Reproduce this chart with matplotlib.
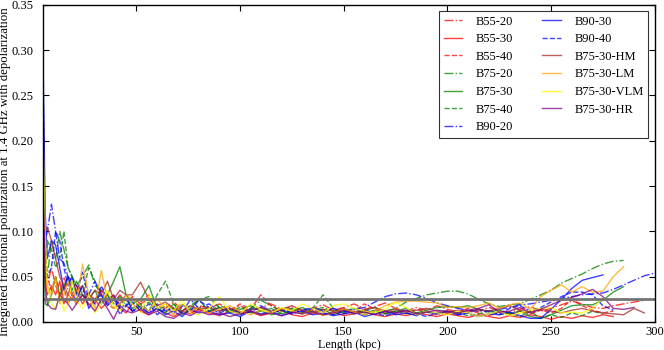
import matplotlib
matplotlib.use("Agg")
import matplotlib.pyplot as plt

plt.rcParams['font.family'] = ['Liberation Serif', 'DejaVu Serif']

# Length grid (kpc)
length_kpc = [5, 6, 7, 9, 11, 13, 15, 17, 19, 21,
              24, 27, 30, 33, 36, 39, 42, 45, 48,
              52, 56, 60, 64, 68, 72, 76, 80,
              85, 90, 95, 100, 105, 110, 115, 120, 125, 130, 135, 140, 145, 150,
              155, 160, 165, 170, 175, 180, 185, 190, 195, 200, 205, 210, 215, 220,
              225, 230, 235, 240, 245, 250, 255, 260, 265, 270, 275, 280, 285, 290,
              295, 300]

b55_20 = [0.08, 0.05, 0.04, 0.06, 0.04, 0.03, 0.05, 0.035, 0.03, 0.04,
          0.025, 0.03, 0.02, 0.035, 0.028, 0.02, 0.03, 0.022, 0.028,
          0.02, 0.025, 0.018, 0.015, 0.022, 0.014, 0.012, 0.018,
          0.015, 0.02, 0.014, 0.018, 0.012, 0.016, 0.02, 0.014, 0.017, 0.012, 0.015, 0.019, 0.013, 0.016,
          0.02, 0.014, 0.017, 0.021, 0.015, 0.012, 0.016, 0.013, 0.018, 0.014, 0.011, 0.015, 0.012, 0.016,
          0.013, 0.01, 0.014, 0.017, 0.012, 0.015, 0.019, 0.023, 0.02, 0.016, 0.015, 0.018, 0.02, 0.022,
          0.024]
b55_30 = [0.25, 0.05, 0.03, 0.04, 0.03, 0.045, 0.02, 0.03, 0.025, 0.035,
          0.02, 0.03, 0.025, 0.015, 0.022, 0.03, 0.015, 0.01, 0.02,
          0.012, 0.008, 0.015, 0.01, 0.006, 0.012, 0.009, 0.014,
          0.01, 0.007, 0.012, 0.009, 0.011, 0.007, 0.01, 0.013, 0.008, 0.006, 0.01, 0.008, 0.011, 0.007,
          0.009, 0.012, 0.008, 0.006, 0.009, 0.007, 0.01, 0.008, 0.006, 0.009, 0.007, 0.005, 0.008, 0.006,
          0.004, 0.007, 0.005, 0.008, 0.006, 0.003, 0.006, 0.004, 0.007, 0.005, 0.008, 0.006]
b55_40 = [0.24, 0.08, 0.05, 0.035, 0.05, 0.025, 0.04, 0.02, 0.03, 0.02,
          0.03, 0.018, 0.025, 0.035, 0.02, 0.015, 0.025, 0.018, 0.012,
          0.022, 0.03, 0.015, 0.02, 0.012, 0.016, 0.01, 0.014,
          0.01, 0.016, 0.012, 0.02, 0.014, 0.03, 0.018, 0.012, 0.015, 0.01, 0.013, 0.011, 0.015, 0.009,
          0.012, 0.02, 0.014, 0.01, 0.012, 0.009, 0.014, 0.011, 0.008, 0.012, 0.009, 0.013, 0.01, 0.007,
          0.011, 0.008, 0.012, 0.009, 0.013, 0.01, 0.015, 0.025, 0.018, 0.013, 0.01, 0.012]
b75_20 = [0.17, 0.06, 0.05, 0.09, 0.07, 0.1, 0.08, 0.06, 0.05, 0.04,
          0.05, 0.063, 0.04, 0.035, 0.03, 0.022, 0.028, 0.018, 0.025,
          0.015, 0.022, 0.012, 0.018, 0.014, 0.02, 0.012, 0.016,
          0.012, 0.018, 0.014, 0.01, 0.015, 0.024, 0.018, 0.012, 0.015, 0.01, 0.013, 0.016, 0.012, 0.014,
          0.01, 0.013, 0.016, 0.012, 0.015, 0.022, 0.026, 0.03, 0.032, 0.034, 0.034, 0.031, 0.025, 0.02,
          0.017, 0.019, 0.02, 0.025, 0.03, 0.035, 0.043, 0.048, 0.053, 0.059, 0.064, 0.067, 0.068]
b75_30 = [0.13, 0.02, 0.018, 0.03, 0.05, 0.03, 0.04, 0.05, 0.035, 0.045,
          0.03, 0.025, 0.035, 0.02, 0.03, 0.045, 0.061, 0.03, 0.02,
          0.025, 0.04, 0.015, 0.01, 0.02, 0.008, 0.015, 0.025,
          0.012, 0.016, 0.01, 0.014, 0.018, 0.012, 0.015, 0.009, 0.012, 0.016, 0.011, 0.014, 0.008, 0.012,
          0.015, 0.01, 0.013, 0.009, 0.012, 0.015, 0.01, 0.013, 0.016, 0.017, 0.016, 0.018, 0.014, 0.011,
          0.013, 0.009, 0.012, 0.006, 0.004, 0.008, 0.013, 0.018, 0.019, 0.019, 0.024, 0.033, 0.039]
b75_40 = [0.27, 0.05, 0.09, 0.08, 0.06, 0.07, 0.1, 0.06, 0.05, 0.03,
          0.03, 0.06, 0.045, 0.025, 0.03, 0.02, 0.018, 0.025, 0.015,
          0.02, 0.012, 0.03, 0.045, 0.02, 0.012, 0.018, 0.025,
          0.028, 0.015, 0.012, 0.016, 0.01, 0.012, 0.008, 0.01, 0.013, 0.009, 0.015, 0.03, 0.015, 0.01,
          0.012, 0.008, 0.011, 0.009, 0.012, 0.01, 0.008, 0.011, 0.009, 0.012, 0.01, 0.007, 0.009, 0.012,
          0.008, 0.01, 0.006, 0.012, 0.004, 0.008, 0.005, 0.01, 0.007, 0.012, 0.009]
b90_20 = [0.15, 0.09, 0.1, 0.13, 0.1, 0.07, 0.065, 0.05, 0.045, 0.04,
          0.035, 0.03, 0.045, 0.03, 0.02, 0.025, 0.015, 0.02, 0.012,
          0.015, 0.01, 0.02, 0.012, 0.016, 0.01, 0.025, 0.015,
          0.02, 0.012, 0.016, 0.01, 0.014, 0.018, 0.012, 0.015, 0.01, 0.013, 0.016, 0.012, 0.015, 0.011,
          0.014, 0.016, 0.022, 0.028, 0.031, 0.032, 0.03, 0.026, 0.021, 0.018, 0.015, 0.013, 0.012, 0.012,
          0.014, 0.016, 0.019, 0.02, 0.022, 0.024, 0.026, 0.028, 0.03, 0.031, 0.032, 0.036, 0.041, 0.046,
          0.051, 0.054]
b90_30 = [0.28, 0.12, 0.07, 0.09, 0.085, 0.06, 0.035, 0.05, 0.03, 0.025,
          0.04, 0.015, 0.025, 0.03, 0.018, 0.025, 0.02, 0.03, 0.012,
          0.018, 0.01, 0.015, 0.008, 0.012, 0.006, 0.014, 0.01,
          0.012, 0.008, 0.01, 0.006, 0.012, 0.009, 0.011, 0.007, 0.01, 0.012, 0.008, 0.01, 0.007, 0.009,
          0.011, 0.006, 0.009, 0.012, 0.008, 0.01, 0.007, 0.012, 0.009, 0.011, 0.008, 0.01, 0.006, 0.009,
          0.008, 0.011, 0.007, 0.004, 0.004, 0.014, 0.025, 0.037, 0.046, 0.049, 0.052]
b90_40 = [0.2, 0.08, 0.05, 0.06, 0.1, 0.09, 0.06, 0.04, 0.05, 0.03,
          0.055, 0.025, 0.02, 0.04, 0.025, 0.03, 0.008, 0.018, 0.022,
          0.012, 0.02, 0.008, 0.015, 0.01, 0.018, 0.012, 0.024,
          0.016, 0.01, 0.014, 0.008, 0.012, 0.016, 0.01, 0.013, 0.009, 0.012, 0.015, 0.01, 0.008, 0.012,
          0.01, 0.014, 0.009, 0.007, 0.01, 0.013, 0.009, 0.006, 0.01, 0.012, 0.008, 0.01, 0.014, 0.012,
          0.009, 0.015, 0.018, 0.012, 0.016, 0.022, 0.028, 0.033, 0.033, 0.03, 0.018, 0.013]
b75_30_hm = [0.12, 0.1, 0.105, 0.09, 0.07, 0.05, 0.04, 0.03, 0.045, 0.035,
             0.04, 0.025, 0.035, 0.03, 0.045, 0.025, 0.035, 0.03, 0.03,
             0.044, 0.025, 0.018, 0.022, 0.015, 0.012, 0.018, 0.014,
             0.016, 0.012, 0.015, 0.011, 0.013, 0.016, 0.012, 0.014, 0.018, 0.013, 0.01, 0.014, 0.012, 0.015,
             0.011, 0.013, 0.016, 0.012, 0.014, 0.011, 0.013, 0.015, 0.012, 0.01, 0.013, 0.011, 0.014, 0.012,
             0.015, 0.018, 0.013, 0.011, 0.014, 0.012, 0.01, 0.013, 0.015, 0.012, 0.01, 0.009, 0.008, 0.015,
             0.01]
b75_30_lm = [0.1, 0.06, 0.04, 0.03, 0.05, 0.02, 0.03, 0.045, 0.03, 0.02,
             0.064, 0.03, 0.015, 0.057, 0.025, 0.015, 0.02, 0.03, 0.025,
             0.018, 0.012, 0.025, 0.015, 0.008, 0.02, 0.012, 0.016,
             0.01, 0.014, 0.018, 0.012, 0.008, 0.013, 0.01, 0.015, 0.012, 0.009, 0.013, 0.007, 0.01, 0.014,
             0.011, 0.008, 0.012, 0.018, 0.022, 0.023, 0.023, 0.022, 0.021, 0.016, 0.017, 0.016, 0.018, 0.021,
             0.015, 0.019, 0.021, 0.014, 0.028, 0.035, 0.041, 0.033, 0.039, 0.033, 0.034, 0.05, 0.061]
b75_30_vlm = [0.2, 0.1, 0.04, 0.02, 0.015, 0.03, 0.012, 0.02, 0.045, 0.025,
              0.015, 0.03, 0.01, 0.02, 0.035, 0.018, 0.012, 0.028, 0.02,
              0.01, 0.03, 0.015, 0.02, 0.012, 0.025, 0.01, 0.008,
              0.015, 0.028, 0.012, 0.009, 0.02, 0.014, 0.01, 0.016, 0.012, 0.02, 0.015, 0.01, 0.018, 0.02,
              0.015, 0.012, 0.01, 0.014, 0.022, 0.016, 0.008, 0.012, 0.01, 0.008, 0.012, 0.01, 0.006, 0.009,
              0.012, 0.007, 0.01, 0.013, 0.015, 0.016, 0.01, 0.011, 0.01, 0.015, 0.026, 0.024]
b75_30_hr = [0.14, 0.04, 0.02, 0.015, 0.014, 0.03, 0.025, 0.02, 0.013, 0.02,
             0.03, 0.02, 0.012, 0.025, 0.015, 0.003, 0.018, 0.012, 0.01,
             0.014, 0.008, 0.012, 0.006, 0.004, 0.01, 0.007, 0.012,
             0.008, 0.01, 0.006, 0.009, 0.012, 0.008, 0.01, 0.007, 0.011, 0.009, 0.012, 0.008, 0.01, 0.013,
             0.009, 0.011, 0.008, 0.012, 0.01, 0.013, 0.009, 0.011, 0.013, 0.012, 0.01, 0.013, 0.015, 0.019,
             0.011, 0.012, 0.016, 0.01, 0.014, 0.019, 0.024, 0.027, 0.031, 0.036, 0.028, 0.015, 0.014, 0.016]

series_labels = ['B55-20', 'B55-30', 'B55-40', 'B75-20', 'B75-30', 'B75-40',
                 'B90-20', 'B90-30', 'B90-40', 'B75-30-HM', 'B75-30-LM',
                 'B75-30-VLM', 'B75-30-HR']
series_values = [b55_20, b55_30, b55_40, b75_20, b75_30, b75_40,
                 b90_20, b90_30, b90_40, b75_30_hm, b75_30_lm,
                 b75_30_vlm, b75_30_hr]
colors = ['r', 'r', 'r', 'g', 'g', 'g', 'b', 'b', 'b',
          'brown', 'orange', 'yellow', 'purple']
styles = ['-.', '-', '--', '-.', '-', '--', '-.', '-', '--',
          '-', '-', '-', '-']
threshold = 0.025

fig = plt.figure(figsize=(6.64, 3.5), dpi=100)
ax = fig.add_axes([0.065, 0.08, 0.921, 0.906])

for lab, vals, c, ls in zip(series_labels, series_values, colors, styles):
    ax.plot(length_kpc[:len(vals)], vals, color=c, ls=ls, lw=1.0,
            alpha=0.75, label=lab)

ax.axhline(threshold, color='0.45', lw=2)

ax.set_xlim(5, 300)
ax.set_ylim(0, 0.35)
ax.set_xticks([50, 100, 150, 200, 250, 300])
ax.set_yticks([0.0, 0.05, 0.10, 0.15, 0.20, 0.25, 0.30, 0.35])
ax.set_yticklabels(['0.00', '0.05', '0.10', '0.15', '0.20', '0.25', '0.30', '0.35'])
ax.tick_params(direction='in', top=True, right=True, length=4, width=0.8,
               labelsize=9)
ax.tick_params(axis='x', pad=3)
ax.tick_params(axis='y', pad=7)
ax.set_xlabel('Length (kpc)', fontsize=8.7, labelpad=0.5)
ax.set_ylabel('Integrated fractional polarization at 1.4 GHz with depolarization',
              fontsize=9.2)
ax.yaxis.set_label_coords(-0.052, 0.473)
for s in ax.spines.values():
    s.set_linewidth(1.0)

leg = ax.legend(loc='upper right', ncol=2, fontsize=9, frameon=True,
                fancybox=False, handlelength=1.5, handletextpad=1.1,
                columnspacing=2.3, labelspacing=0.45, borderpad=0.35,
                borderaxespad=0.5)
leg.get_frame().set_edgecolor('black')
leg.get_frame().set_linewidth(0.8)

fig.savefig('out.png', dpi=100)
